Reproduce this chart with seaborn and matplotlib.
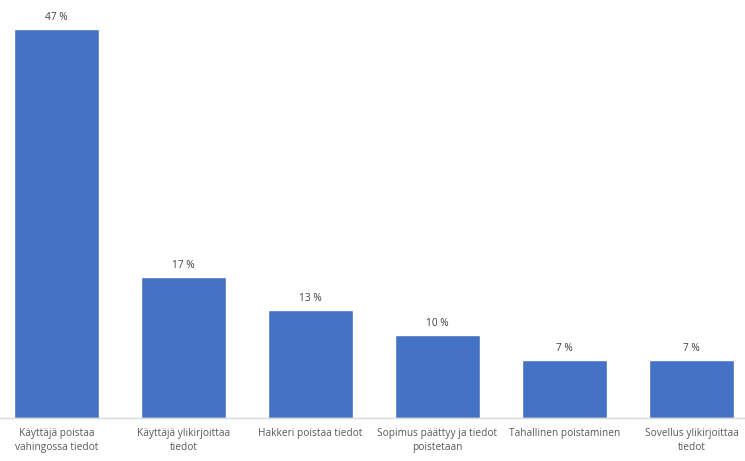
import matplotlib.pyplot as plt
import seaborn as sns
import pandas as pd

# Data
categories = [
    "Käyttäjä poistaa\nvahingossa tiedot",
    "Käyttäjä ylikirjoittaa\ntiedot",
    "Hakkeri poistaa tiedot",
    "Sopimus päättyy ja tiedot\npoistetaan",
    "Tahallinen poistaminen",
    "Sovellus ylikirjoittaa\ntiedot",
]
percentages = [47, 17, 13, 10, 7, 7]

df = pd.DataFrame({"Syy": categories, "Osuus": percentages})

sns.set_style("white")
plt.rcParams['font.family'] = ['Open Sans', 'DejaVu Sans']

fig = plt.figure(figsize=(7.45, 4.61), dpi=100)
# axes slightly wider than the figure, like the Excel plot area
ax = fig.add_axes([-7 / 745, 1 - 418 / 461, 762 / 745, 414 / 461])

sns.barplot(data=df, x="Syy", y="Osuus", color="#4472C4", width=0.67,
            saturation=1, ax=ax)

for i, v in enumerate(percentages):
    ax.annotate(f"{v} %", (i, v), xytext=(0, 4.5), textcoords="offset points",
                ha="center", va="bottom", fontsize=7.3, color="#404040")

ax.set_xlim(-0.5, len(categories) - 0.5)
ax.set_ylim(0, 50)
ax.set_xlabel("")
ax.set_ylabel("")
ax.set_yticks([])
ax.tick_params(axis="x", length=0, pad=7, labelsize=7.3, labelcolor="#595959")
for lbl in ax.get_xticklabels():
    lbl.set_linespacing(1.45)
for s in ["top", "left", "right"]:
    ax.spines[s].set_visible(False)
ax.spines["bottom"].set_color("#D9D9D9")
ax.spines["bottom"].set_linewidth(1)

fig.savefig("out.png", dpi=100)
